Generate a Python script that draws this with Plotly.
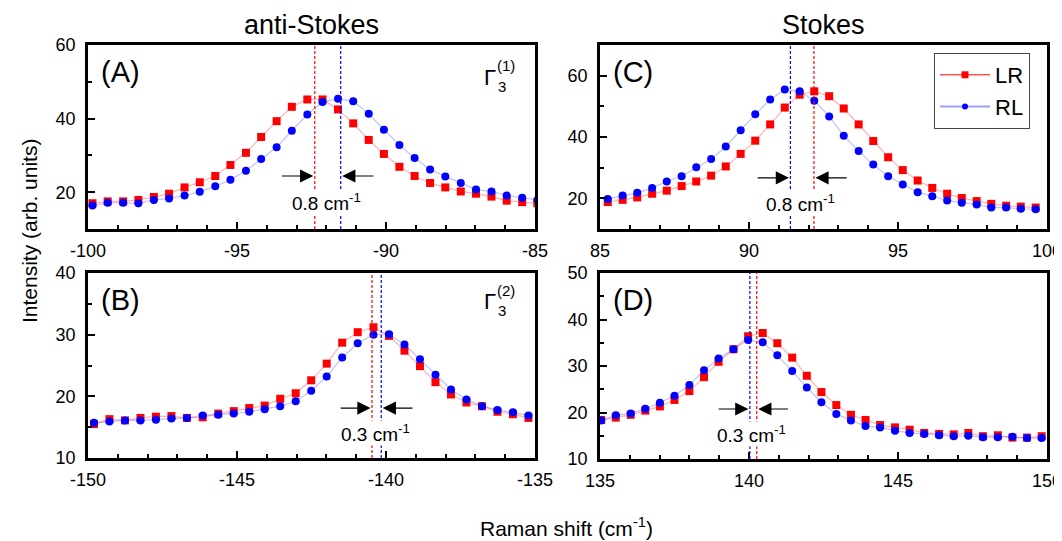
import plotly.graph_objects as go
from plotly.subplots import make_subplots

# Raman shift positions (cm-1) for each panel
as1_shift = [-99.85, -99.34, -98.82, -98.31, -97.79, -97.28, -96.76, -96.25, -95.73, -95.22,
             -94.70, -94.19, -93.67, -93.16, -92.64, -92.13, -91.61, -91.10, -90.58, -90.07,
             -89.55, -89.04, -88.52, -88.01, -87.49, -86.98, -86.46, -85.95, -85.43, -84.92]
s1_shift = [85.26, 85.76, 86.25, 86.75, 87.24, 87.74, 88.23, 88.73, 89.22, 89.72,
            90.21, 90.71, 91.20, 91.70, 92.19, 92.69, 93.18, 93.68, 94.17, 94.67,
            95.16, 95.66, 96.15, 96.65, 97.14, 97.64, 98.13, 98.63, 99.12, 99.62]
as2_shift = [-149.80, -149.28, -148.76, -148.24, -147.72, -147.20, -146.68, -146.15, -145.63, -145.11,
             -144.59, -144.07, -143.55, -143.03, -142.51, -141.99, -141.47, -140.95, -140.42, -139.90,
             -139.38, -138.86, -138.34, -137.82, -137.30, -136.78, -136.26, -135.74, -135.22]
s2_shift = [135.04, 135.53, 136.03, 136.52, 137.01, 137.50, 138.00, 138.49, 138.98, 139.48,
            139.97, 140.46, 140.95, 141.45, 141.94, 142.43, 142.93, 143.42, 143.91, 144.40,
            144.90, 145.39, 145.88, 146.38, 146.87, 147.36, 147.85, 148.35, 148.84, 149.33, 149.82]

# Intensities (arb. units), LR and RL polarisation
as1_lr = [17.0, 17.5, 17.5, 17.9, 18.7, 19.6, 21.3, 22.7, 24.4, 27.4, 30.7, 35.0, 39.3, 43.2, 45.2,
          45.2, 42.5, 38.7, 34.2, 30.4, 26.9, 24.4, 22.5, 21.3, 20.2, 19.6, 18.8, 17.7, 17.3, 17.0]
as1_rl = [16.4, 17.1, 17.1, 17.0, 17.9, 18.3, 19.1, 20.1, 21.6, 23.4, 25.8, 29.0, 32.2, 36.7, 41.1,
          44.5, 45.4, 44.7, 41.3, 37.0, 32.8, 29.3, 26.2, 24.3, 22.5, 20.7, 20.2, 19.1, 18.5, 17.9]
s1_lr = [18.8, 19.5, 20.3, 21.5, 22.5, 24.0, 25.5, 27.4, 30.4, 34.5, 38.8, 44.1, 49.6, 53.8, 54.9,
         53.3, 49.3, 44.1, 38.7, 33.4, 29.2, 25.8, 23.4, 21.5, 20.1, 19.1, 18.2, 17.6, 17.3, 17.0]
s1_rl = [19.8, 20.9, 21.8, 23.4, 25.5, 27.2, 30.1, 32.8, 36.9, 42.2, 47.4, 52.2, 55.5, 54.9, 51.8,
         46.7, 40.4, 35.4, 31.0, 27.2, 24.5, 22.0, 20.7, 19.3, 18.6, 18.0, 17.0, 17.0, 16.6, 16.4]
as2_lr = [15.5, 16.3, 16.1, 16.5, 16.7, 16.8, 16.5, 16.6, 17.2, 17.6, 18.1, 18.5, 19.6, 20.5, 22.6,
          25.3, 28.7, 30.4, 31.2, 29.8, 27.4, 24.9, 22.3, 20.3, 19.0, 18.4, 17.5, 17.1, 16.5]
as2_rl = [15.7, 15.9, 16.1, 16.1, 16.2, 16.4, 16.5, 16.9, 17.0, 17.2, 17.5, 17.9, 18.4, 19.2, 20.9,
          23.2, 26.3, 28.6, 30.0, 30.05, 28.4, 26.0, 23.5, 21.1, 19.5, 18.4, 17.8, 17.4, 16.9]
s2_lr = [18.4, 18.9, 19.5, 20.4, 21.3, 22.7, 24.6, 27.6, 30.9, 33.6, 36.4, 37.1, 34.9, 31.8, 27.9, 24.4,
         21.6, 19.5, 18.4, 17.3, 16.8, 16.3, 15.6, 15.4, 15.3, 15.6, 14.9, 15.1, 14.6, 14.6, 14.9]
s2_rl = [18.3, 19.4, 19.8, 20.8, 22.1, 23.6, 25.9, 29.1, 31.6, 33.6, 35.6, 35.1, 32.3, 28.9, 25.4, 22.2,
         19.7, 18.3, 17.1, 16.8, 16.1, 15.6, 15.4, 15.1, 14.9, 15.0, 14.7, 14.7, 14.8, 14.5, 14.5]

# Peak positions (LR, RL) and splitting labels
peaks_lr = [-92.39, 92.18, -140.47, 140.26]
peaks_rl = [-91.52, 91.39, -140.16, 140.03]
split_labels = ["0.8 cm<sup>-1</sup>", "0.8 cm<sup>-1</sup>", "0.3 cm<sup>-1</sup>", "0.3 cm<sup>-1</sup>"]
panel_labels = ["(A)", "(C)", "(B)", "(D)"]
mode_sup = ["(1)", "", "(2)", ""]
series_names = ["LR", "RL"]

# Tick labels
x_ticks = [[-100, -95, -90, -85], [85, 90, 95, 100], [-150, -145, -140, -135], [135, 140, 145, 150]]
x_ranges = [[-100, -85], [85, 100], [-150, -135], [135, 150]]
y_ranges = [[10, 60], [10, 70], [10, 40], [10, 50]]
y_ticks = [[20, 40, 60], [20, 40, 60], [10, 20, 30, 40], [10, 20, 30, 40, 50]]

# page offset (browser body margin) and figure size
OFF = 8
W, H = 1062 - OFF, 541 - OFF
FONT = "Liberation Sans, Arial, sans-serif"
RED = "#ff0000"
BLUE = "#0000ff"


def px(p):
    # page pixel x -> paper fraction
    return (p - OFF) / W


def py(p):
    # page pixel y (from top) -> paper fraction
    return 1 - (p - OFF) / H


def text(x, y, s, size, anchor = "left", angle = 0):
    fig.add_annotation(x = px(x), y = py(y), xref = "paper", yref = "paper", text = s,
                       showarrow = False, xanchor = anchor, yanchor = "middle", textangle = angle,
                       font = dict(size = size, family = FONT, color = "black"))


fig = make_subplots(rows = 2, cols = 2)

panels = [
    (1, 1, as1_shift, as1_lr, as1_rl),
    (1, 2, s1_shift, s1_lr, s1_rl),
    (2, 1, as2_shift, as2_lr, as2_rl),
    (2, 2, s2_shift, s2_lr, s2_rl),
]

# page-pixel boxes of each panel: left, right, top, bottom
boxes = [(88, 535, 45, 229), (600, 1047, 45, 229), (88, 535, 273, 458), (600, 1047, 273, 459)]

# arrow / text heights inside each panel (data units)
arrow_y = [24.4, 26.7, 18.1, 20.75]
text_y = [17.3, 18.5, 14.0, 15.4]
arrow_len = [1.1, 1.1, 1.05, 1.05]

for i, (r, c, xs, lr, rl) in enumerate(panels):
    fig.add_trace(go.Scatter(x = xs, y = lr, mode = "lines+markers", showlegend = False,
                             line = dict(color = "rgba(255,0,0,0.3)", width = 1.2),
                             marker = dict(symbol = "square", size = 8, color = RED)), row = r, col = c)
    fig.add_trace(go.Scatter(x = xs, y = rl, mode = "lines+markers", showlegend = False,
                             line = dict(color = "rgba(0,0,255,0.25)", width = 1.2),
                             marker = dict(symbol = "circle", size = 8, color = BLUE)), row = r, col = c)

    n = "" if i == 0 else str(i + 1)
    xref, yref = "x" + n, "y" + n
    left, right, top, bottom = boxes[i]
    y_minor = 10 if i < 2 else 5

    fig.update_layout({
        "xaxis" + n: dict(domain = [px(left), px(right)], range = x_ranges[i], automargin = False,
                          tickvals = x_ticks[i], ticktext = [str(v) for v in x_ticks[i]],
                          ticklabeloverflow = "allow",
                          ticks = "inside", ticklen = 7, tickwidth = 2, tickcolor = "black",
                          minor = dict(dtick = 1, ticks = "inside", ticklen = 4, tickwidth = 2, tickcolor = "black"),
                          showline = True, linewidth = 2.5, linecolor = "black", mirror = True,
                          showgrid = False, zeroline = False, ticklabelstandoff = 4,
                          tickfont = dict(size = 18, family = FONT, color = "black")),
        "yaxis" + n: dict(domain = [py(bottom), py(top)], range = y_ranges[i], automargin = False,
                          tickvals = y_ticks[i], ticklabeloverflow = "allow",
                          ticks = "inside", ticklen = 7, tickwidth = 2, tickcolor = "black",
                          minor = dict(dtick = y_minor, ticks = "inside", ticklen = 4, tickwidth = 2,
                                       tickcolor = "black"),
                          showline = True, linewidth = 2.5, linecolor = "black", mirror = True,
                          showgrid = False, zeroline = False, ticklabelstandoff = 6,
                          tickfont = dict(size = 18, family = FONT, color = "black")),
    })

    # dashed peak markers
    for pk, col in [(peaks_lr[i], RED), (peaks_rl[i], BLUE)]:
        fig.add_shape(type = "line", xref = xref, yref = yref + " domain", x0 = pk, x1 = pk, y0 = 0, y1 = 1,
                      line = dict(color = col, width = 1.2, dash = "3px,2px"))

    lo, hi = sorted([peaks_lr[i], peaks_rl[i]])
    # arrows pointing at the two peaks
    fig.add_annotation(x = lo - 0.05, y = arrow_y[i], ax = lo - 0.05 - arrow_len[i], ay = arrow_y[i],
                       xref = xref, yref = yref, axref = xref, ayref = yref, text = "",
                       showarrow = True, arrowhead = 2, arrowsize = 2.2, arrowwidth = 1.2,
                       arrowcolor = "black", standoff = 0)
    fig.add_annotation(x = hi + 0.05, y = arrow_y[i], ax = hi + 0.05 + arrow_len[i], ay = arrow_y[i],
                       xref = xref, yref = yref, axref = xref, ayref = yref, text = "",
                       showarrow = True, arrowhead = 2, arrowsize = 2.2, arrowwidth = 1.2,
                       arrowcolor = "black", standoff = 0)
    fig.add_annotation(x = (lo + hi) / 2 - 0.05, y = text_y[i], xref = xref, yref = yref,
                       xanchor = "center", text = split_labels[i], showarrow = False,
                       bgcolor = "white", borderpad = 0,
                       font = dict(size = 19, family = FONT, color = "black"))

    # panel letter
    text(left + 11, top + 27, panel_labels[i], 29)

    # mode label: Gamma with stacked sub- and superscript
    if mode_sup[i]:
        g_y = top + 32 if i == 0 else top + 28
        text(right - 53, g_y, "Γ", 22)
        text(right - 39, g_y + 9, "3", 15)
        text(right - 40, g_y - 11, mode_sup[i], 15)

# Legend entries
fig.add_trace(go.Scatter(x = [None], y = [None], mode = "lines+markers", name = series_names[0],
                         line = dict(color = RED, width = 1),
                         marker = dict(symbol = "square", size = 7, color = RED)), row = 1, col = 2)
fig.add_trace(go.Scatter(x = [None], y = [None], mode = "lines+markers", name = series_names[1],
                         line = dict(color = "rgba(80,80,255,0.55)", width = 2),
                         marker = dict(symbol = "circle", size = 6, color = BLUE)), row = 1, col = 2)

# Column titles and axis titles
text(311.5, 25, "anti-Stokes", 27, anchor = "center")
text(823.5, 25, "Stokes", 27, anchor = "center")
text(566, 527, "Raman shift (cm<sup>-1</sup>)", 21, anchor = "center")
text(29, 231, "Intensity (arb. units)", 21, anchor = "center", angle = -90)

fig.update_layout(width = W, height = H, margin = dict(l = 0, r = 0, t = 0, b = 0),
                  plot_bgcolor = "white", paper_bgcolor = "white",
                  font = dict(family = FONT, color = "black"),
                  legend = dict(x = px(1030), y = py(53), xanchor = "right", yanchor = "top",
                                bgcolor = "white", bordercolor = "#444", borderwidth = 1,
                                itemwidth = 50, tracegroupgap = 0,
                                font = dict(size = 22, family = FONT, color = "black")))

fig.write_html("out.html")
